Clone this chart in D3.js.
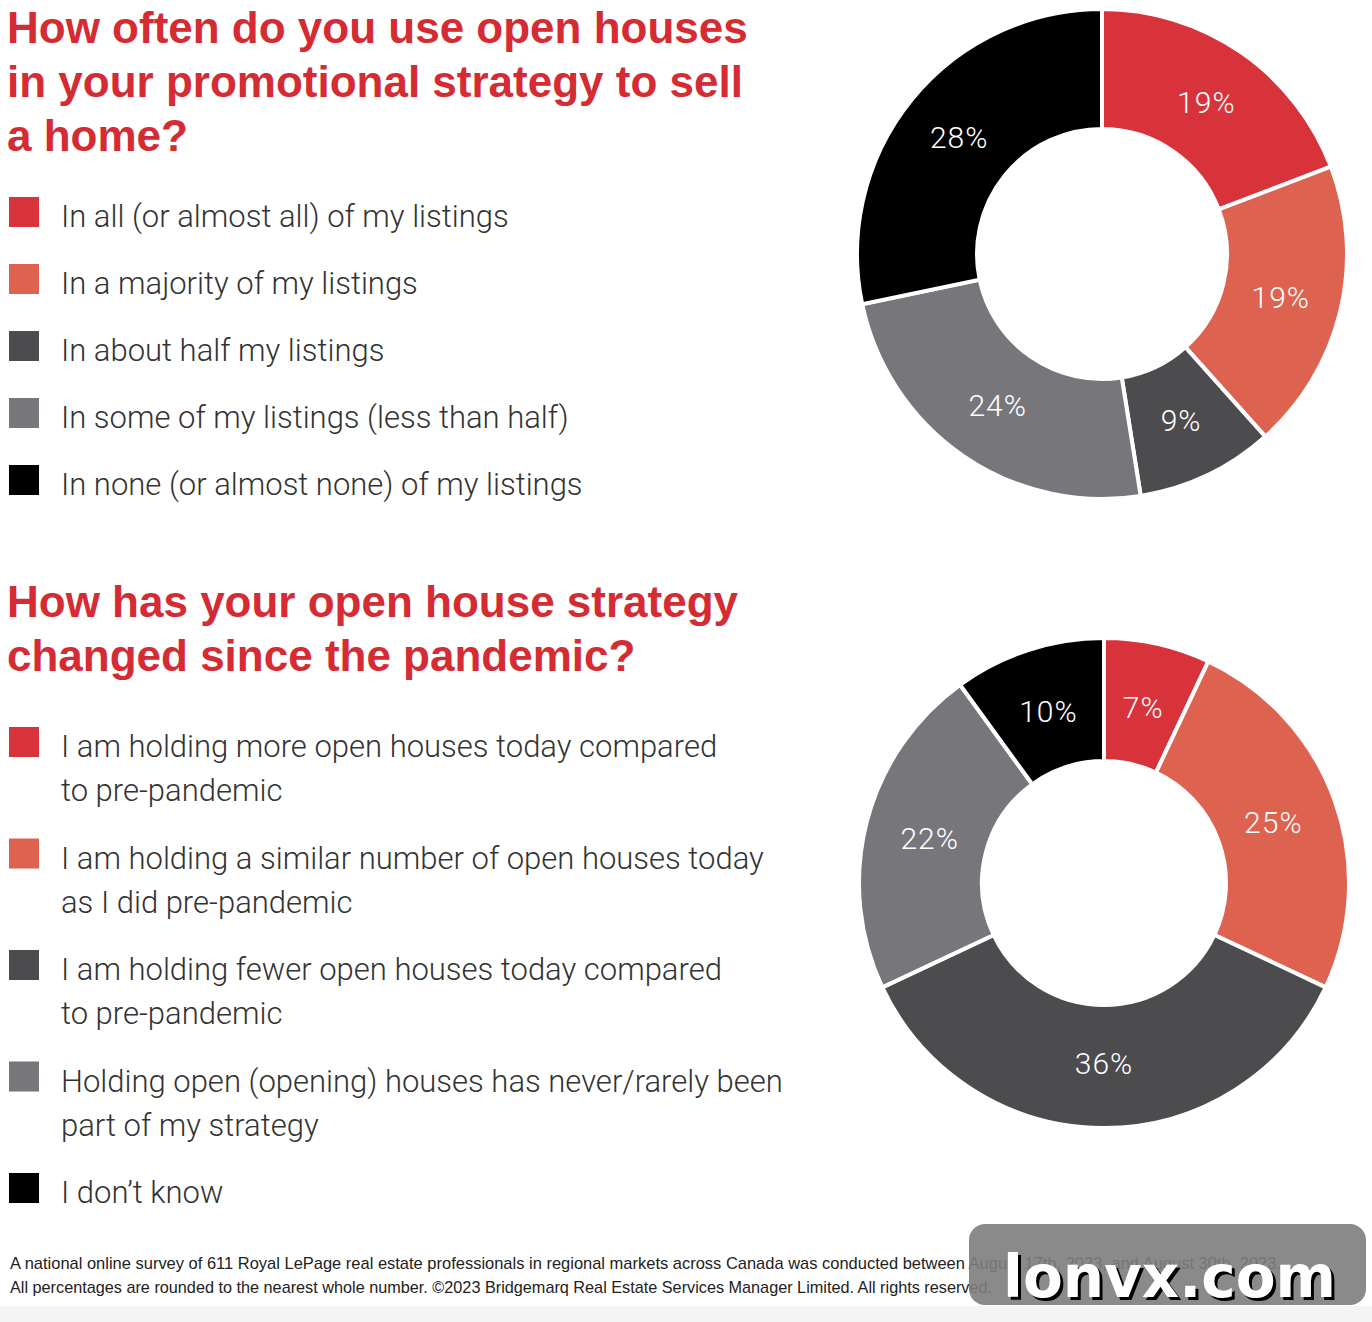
<!DOCTYPE html>
<html>
<head>
<meta charset="utf-8">
<script src="https://cdn.jsdelivr.net/npm/d3@7"></script>
<style>
  html, body { margin: 0; padding: 0; background: #fff; }
  svg { display: block; }
</style>
</head>
<body>
<svg id="chart" width="1372" height="1322"></svg>
<script>
// ---------- DATA ----------
const title1 = ["How often do you use open houses", "in your promotional strategy to sell", "a home?"];
const categories1 = [
  ["In all (or almost all) of my listings"],
  ["In a majority of my listings"],
  ["In about half my listings"],
  ["In some of my listings (less than half)"],
  ["In none (or almost none) of my listings"]
];
const values1 = [19, 19, 9, 24, 28];

const title2 = ["How has your open house strategy", "changed since the pandemic?"];
const categories2 = [
  ["I am holding more open houses today compared", "to pre-pandemic"],
  ["I am holding a similar number of open houses today", "as I did pre-pandemic"],
  ["I am holding fewer open houses today compared", "to pre-pandemic"],
  ["Holding open (opening) houses has never/rarely been", "part of my strategy"],
  ["I don\u2019t know"]
];
const values2 = [7, 25, 36, 22, 10];

const colors = ["#d8323a", "#de6250", "#4c4b4d", "#77777b", "#000000"];
const footnote = [
  "A national online survey of 611 Royal LePage real estate professionals in regional markets across Canada was conducted between August 17th, 2023, and August 30th, 2023.",
  "All percentages are rounded to the nearest whole number. \u00A92023 Bridgemarq Real Estate Services Manager Limited. All rights reserved."
];
const watermark = "lonvx.com";

// ---------- DRAW ----------
const svg = d3.select("#chart");
const RED = "#d52b33";
const TXT = "#333333";
const titleFont = "'Liberation Sans', Arial, Helvetica, sans-serif";
const bodyFont = "Roboto, 'Liberation Sans', Arial, sans-serif";

svg.append("rect").attr("x", 0).attr("y", 0).attr("width", 1372).attr("height", 1322).attr("fill", "#fff");
svg.append("rect").attr("x", 0).attr("y", 1306).attr("width", 1372).attr("height", 16).attr("fill", "#f4f4f4");

function drawTitle(lines, x, y0, lh) {
  const t = svg.append("text")
    .attr("font-family", titleFont).attr("font-weight", 700)
    .attr("font-size", 44).attr("fill", RED);
  lines.forEach((l, i) => {
    t.append("tspan").attr("x", x).attr("y", y0 + i * lh).text(l);
  });
}

drawTitle(title1, 7, 43, 54);
drawTitle(title2, 7, 617, 54);

function drawLegend(cats, y0, step, lineH) {
  const g = svg.append("g");
  const items = g.selectAll("g.item").data(cats).join("g").attr("class", "item")
    .attr("transform", (d, i) => `translate(0, ${y0 + i * step})`);
  items.append("rect").attr("x", 9).attr("y", 0).attr("width", 30).attr("height", 30)
    .attr("fill", (d, i) => colors[i]);
  const txt = items.append("text")
    .attr("font-family", bodyFont).attr("font-weight", 300)
    .attr("font-size", 31).attr("fill", TXT);
  txt.selectAll("tspan").data(d => d).join("tspan")
    .attr("x", 61).attr("y", (d, j) => 30 + j * lineH)
    .text(d => d);
}

drawLegend(categories1, 197, 67, 44);
drawLegend(categories2, 727, 111.5, 44);

function drawDonut(values, cx, cy, rOuter, rInner, rLabel) {
  const pie = d3.pie().sort(null).value(d => d);
  const arcs = pie(values);
  const arc = d3.arc().innerRadius(rInner).outerRadius(rOuter);
  const labelArc = d3.arc().innerRadius(rLabel).outerRadius(rLabel);
  const g = svg.append("g").attr("transform", `translate(${cx},${cy})`);
  g.selectAll("path").data(arcs).join("path")
    .attr("d", arc)
    .attr("fill", (d, i) => colors[i])
    .attr("stroke", "#fff").attr("stroke-width", 4).attr("stroke-linejoin", "miter");
  g.selectAll("text").data(arcs).join("text")
    .attr("transform", d => `translate(${labelArc.centroid(d)})`)
    .attr("text-anchor", "middle").attr("dominant-baseline", "central")
    .attr("font-family", bodyFont).attr("font-weight", 300)
    .attr("font-size", 30).attr("letter-spacing", 1)
    .attr("fill", "#fff")
    .text(d => d.data + "%");
}

drawDonut(values1, 1102, 254, 245, 125, 184);
drawDonut(values2, 1104, 883, 245, 122, 180);

// footnote
const fnWidths = [1271, 982];
footnote.forEach((l, i) => {
  svg.append("text")
    .attr("x", 10).attr("y", 1269 + i * 24)
    .attr("font-family", "'Liberation Sans Narrow', 'Liberation Sans', Arial, sans-serif")
    .attr("font-size", 17).attr("fill", "#222")
    .attr("textLength", fnWidths[i]).attr("lengthAdjust", "spacingAndGlyphs")
    .text(l);
});

// watermark
const wm = svg.append("g");
wm.append("rect").attr("x", 969).attr("y", 1224).attr("width", 397).attr("height", 81)
  .attr("rx", 16).attr("fill", "#7d7d7d").attr("opacity", 0.9);
wm.append("text").attr("x", 1006).attr("y", 1300)
  .attr("font-family", "'DejaVu Sans', Verdana, sans-serif").attr("font-weight", 700)
  .attr("font-size", 58).attr("fill", "#000").text(watermark);
wm.append("text").attr("x", 1003).attr("y", 1297)
  .attr("font-family", "'DejaVu Sans', Verdana, sans-serif").attr("font-weight", 700)
  .attr("font-size", 58).attr("fill", "#fff").text(watermark);
</script>
</body>
</html>
